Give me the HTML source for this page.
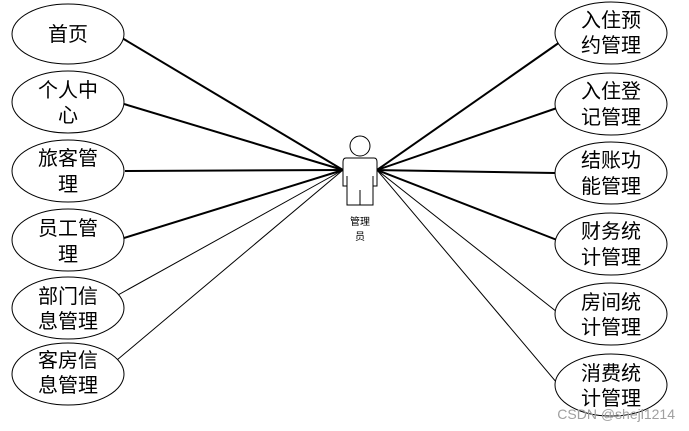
<!DOCTYPE html>
<html><head><meta charset="utf-8"><style>
html,body{margin:0;padding:0;background:#fff;width:689px;height:431px;overflow:hidden}
svg text{font-family:"Liberation Sans","Noto Sans CJK SC",sans-serif}
</style></head><body>
<svg width="689" height="431" viewBox="0 0 689 431" xmlns="http://www.w3.org/2000/svg">
<g stroke="#000" fill="none">
<line x1="122" y1="38" x2="343" y2="170" stroke-width="2"/>
<line x1="124" y1="104" x2="343" y2="170" stroke-width="2"/>
<line x1="125" y1="171" x2="343" y2="170" stroke-width="2"/>
<line x1="124" y1="238" x2="343" y2="170" stroke-width="2"/>
<line x1="118" y1="295" x2="343" y2="170" stroke-width="1"/>
<line x1="117" y1="360" x2="343" y2="170" stroke-width="1"/>
<line x1="377" y1="170" x2="560" y2="42" stroke-width="2"/>
<line x1="377" y1="170" x2="557" y2="108" stroke-width="2"/>
<line x1="377" y1="170" x2="555" y2="173" stroke-width="2"/>
<line x1="377" y1="170" x2="557" y2="240" stroke-width="2"/>
<line x1="377" y1="170" x2="557" y2="312" stroke-width="1"/>
<line x1="377" y1="170" x2="557" y2="383" stroke-width="1"/>
</g>
<g stroke="#000" stroke-width="1" fill="#fff">
<ellipse cx="68" cy="34" rx="56" ry="30"/>
<ellipse cx="68" cy="102" rx="56" ry="31"/>
<ellipse cx="68" cy="171" rx="56" ry="31"/>
<ellipse cx="68" cy="240" rx="56" ry="31"/>
<ellipse cx="68" cy="308" rx="56" ry="31"/>
<ellipse cx="68" cy="374" rx="56" ry="31"/>
<ellipse cx="611" cy="33" rx="56" ry="31"/>
<ellipse cx="611" cy="104" rx="56" ry="31"/>
<ellipse cx="611" cy="173" rx="56" ry="31"/>
<ellipse cx="611" cy="244" rx="56" ry="31"/>
<ellipse cx="611" cy="314" rx="56" ry="31"/>
<ellipse cx="611" cy="385" rx="56" ry="31"/>
</g>
<g stroke="#000" stroke-width="1" fill="#fff">
<circle cx="360" cy="146" r="10"/>
<path d="M346,158 H374 Q377,158 377,162 V186 H373 V205 H347 V186 H343 V162 Q343,158 346,158 Z"/>
<line x1="347" y1="176" x2="347" y2="186"/>
<line x1="373" y1="176" x2="373" y2="186"/>
<line x1="360" y1="190" x2="360" y2="205"/>
</g>
<g font-size="10" text-anchor="middle" fill="#000">
<text x="360" y="225">管理</text>
<text x="360" y="240">员</text>
</g>
<g font-size="20" text-anchor="middle" fill="#000">
<text x="68" y="41">首页</text>
<text x="68" y="97">个人中</text><text x="68" y="122">心</text>
<text x="68" y="165">旅客管</text><text x="68" y="191">理</text>
<text x="68" y="235">员工管</text><text x="68" y="261">理</text>
<text x="68" y="303">部门信</text><text x="68" y="328">息管理</text>
<text x="68" y="367">客房信</text><text x="68" y="392">息管理</text>
<text x="611" y="27">入住预</text><text x="611" y="52">约管理</text>
<text x="611" y="98">入住登</text><text x="611" y="124">记管理</text>
<text x="611" y="167">结账功</text><text x="611" y="193">能管理</text>
<text x="611" y="238">财务统</text><text x="611" y="264">计管理</text>
<text x="611" y="309">房间统</text><text x="611" y="334">计管理</text>
<text x="611" y="380">消费统</text><text x="611" y="405">计管理</text>
</g>
<text x="675" y="419" font-size="14" text-anchor="end" fill="#a0a0a0">CSDN @shejl1214</text>
</svg>
</body></html>
